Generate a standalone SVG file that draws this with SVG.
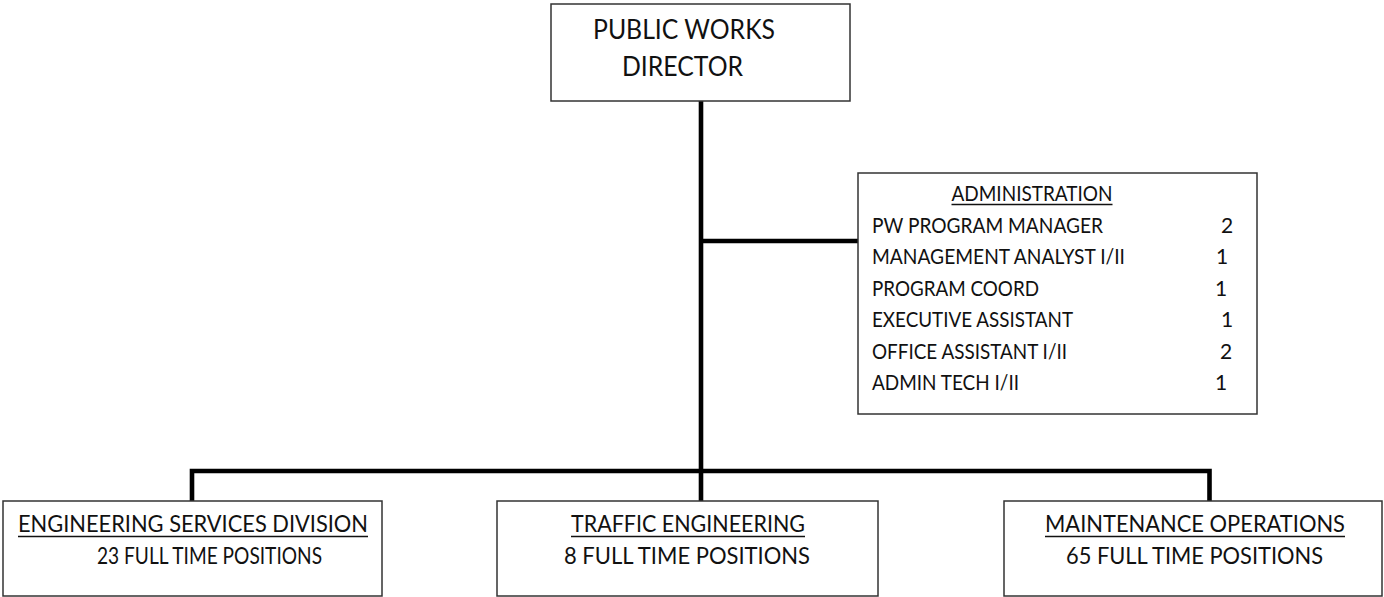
<svg xmlns="http://www.w3.org/2000/svg" width="1384" height="597" viewBox="0 0 1384 597">
  <style>
    .box { fill: #ffffff; stroke: #333333; stroke-width: 1.5; }
    .t { font-family: Lato, "Open Sans", "Liberation Sans", sans-serif; fill: #111111; }
    .big { font-size: 26px; }
    .txt { font-size: 23px; }
    .sm { font-size: 21px; }
    .ul { stroke: #111111; stroke-width: 1.3; }
    .wire { fill: none; stroke: #000000; stroke-width: 4.6; stroke-linejoin: miter; stroke-linecap: butt; }
  </style>
  <rect width="1384" height="597" fill="#ffffff"/>

  <!-- reporting lines -->
  <g id="connectors">
    <path class="wire" d="M701 101 V501"/>
    <path class="wire" d="M701 241 H858"/>
    <path class="wire" d="M192 501 V471 H1209.5 V501"/>
  </g>

  <g id="director">
    <rect class="box" x="551" y="4" width="299" height="97"/>
    <text class="t big" x="684" y="39" text-anchor="middle" textLength="182" lengthAdjust="spacingAndGlyphs">PUBLIC WORKS</text>
    <text class="t big" x="682.5" y="76" text-anchor="middle" textLength="121" lengthAdjust="spacingAndGlyphs">DIRECTOR</text>
  </g>

  <g id="administration">
    <rect class="box" x="858" y="173" width="399" height="241"/>
    <text class="t sm" x="1032" y="201" text-anchor="middle" textLength="161" lengthAdjust="spacingAndGlyphs">ADMINISTRATION</text>
    <line class="ul" x1="951.5" y1="204.5" x2="1112.5" y2="204.5"/>
    <text class="t sm" x="872" y="232.5" textLength="231" lengthAdjust="spacingAndGlyphs">PW PROGRAM MANAGER</text>
    <text class="t sm" x="1227" y="232.5" text-anchor="middle">2</text>
    <text class="t sm" x="872" y="264" textLength="253" lengthAdjust="spacingAndGlyphs">MANAGEMENT ANALYST I/II</text>
    <text class="t sm" x="1222" y="264" text-anchor="middle">1</text>
    <text class="t sm" x="872" y="295.5" textLength="167" lengthAdjust="spacingAndGlyphs">PROGRAM COORD</text>
    <text class="t sm" x="1221" y="295.5" text-anchor="middle">1</text>
    <text class="t sm" x="872" y="327" textLength="201" lengthAdjust="spacingAndGlyphs">EXECUTIVE ASSISTANT</text>
    <text class="t sm" x="1227" y="327" text-anchor="middle">1</text>
    <text class="t sm" x="872" y="358.5" textLength="195" lengthAdjust="spacingAndGlyphs">OFFICE ASSISTANT I/II</text>
    <text class="t sm" x="1226" y="358.5" text-anchor="middle">2</text>
    <text class="t sm" x="872" y="390" textLength="147" lengthAdjust="spacingAndGlyphs">ADMIN TECH I/II</text>
    <text class="t sm" x="1221" y="390" text-anchor="middle">1</text>
  </g>

  <g id="engineering">
    <rect class="box" x="3" y="501" width="379" height="95"/>
    <text class="t txt" x="193" y="532" text-anchor="middle" textLength="350" lengthAdjust="spacingAndGlyphs">ENGINEERING SERVICES DIVISION</text>
    <line class="ul" x1="18" y1="536.5" x2="368" y2="536.5"/>
    <text class="t txt" x="209.5" y="564" text-anchor="middle" textLength="225" lengthAdjust="spacingAndGlyphs">23 FULL TIME POSITIONS</text>
  </g>

  <g id="traffic">
    <rect class="box" x="497" y="501" width="381" height="95"/>
    <text class="t txt" x="688" y="532" text-anchor="middle" textLength="234" lengthAdjust="spacingAndGlyphs">TRAFFIC ENGINEERING</text>
    <line class="ul" x1="571" y1="536.5" x2="805" y2="536.5"/>
    <text class="t txt" x="687" y="564" text-anchor="middle" textLength="246" lengthAdjust="spacingAndGlyphs">8 FULL TIME POSITIONS</text>
  </g>

  <g id="maintenance">
    <rect class="box" x="1004" y="501" width="378" height="95"/>
    <text class="t txt" x="1195" y="532" text-anchor="middle" textLength="300" lengthAdjust="spacingAndGlyphs">MAINTENANCE OPERATIONS</text>
    <line class="ul" x1="1045" y1="536.5" x2="1345" y2="536.5"/>
    <text class="t txt" x="1194.5" y="564" text-anchor="middle" textLength="257" lengthAdjust="spacingAndGlyphs">65 FULL TIME POSITIONS</text>
  </g>
</svg>
